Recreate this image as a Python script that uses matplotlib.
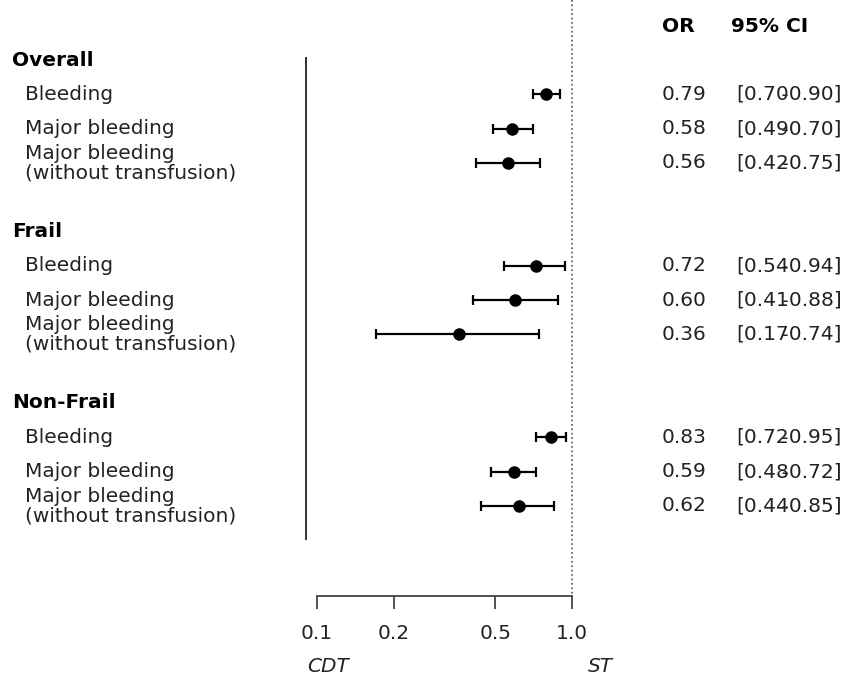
import matplotlib
matplotlib.use("Agg")
import matplotlib.pyplot as plt
from matplotlib.transforms import blended_transform_factory
import numpy as np

plt.rcParams['font.family'] = ['DejaVu Sans']

groups = ["Overall", "Frail", "Non-Frail"]
outcomes = ["Bleeding", "Major bleeding", "Major bleeding\n(without transfusion)"]
or_vals = [[0.79, 0.58, 0.56], [0.72, 0.60, 0.36], [0.83, 0.59, 0.62]]
ci_low = [[0.70, 0.49, 0.42], [0.54, 0.41, 0.17], [0.72, 0.48, 0.44]]
ci_high = [[0.90, 0.70, 0.75], [0.94, 0.88, 0.74], [0.95, 0.72, 0.85]]
xticks = [0.1, 0.2, 0.5, 1.0]
xticklabels = ["0.1", "0.2", "0.5", "1.0"]

W, H = 845, 675
fig = plt.figure(figsize=(W / 100, H / 100), dpi=100)
ax = fig.add_axes([0, 0, 1, 1])
ax.set_xscale('log')

# pixel mapping: x=317 -> 0.1, x=572 -> 1.0 ; y row k -> y0 + row_px*k
px_dec = 255.0
x0 = 317.0
ax.set_xlim(10 ** (-1 - x0 / px_dec), 10 ** (-1 + (W - x0) / px_dec))
row_px, y0 = 34.3, 60.0
ax.set_ylim((H - y0) / row_px, -y0 / row_px)

fs = 14.5
tcol = '#222222'
tx = blended_transform_factory(fig.transFigure, ax.transData)

k = 0
for g, grp in enumerate(groups):
    ax.text(12 / W, k, grp, transform=tx, fontsize=fs, fontweight='bold',
            va='center', ha='left')
    k += 1
    for i, lab in enumerate(outcomes):
        yy = k
        ax.text(25 / W, yy, lab, transform=tx, fontsize=fs, va='center',
                ha='left', linespacing=1.05, color=tcol)
        o, lo, hi = or_vals[g][i], ci_low[g][i], ci_high[g][i]
        ax.errorbar([o], [yy], xerr=[[o - lo], [hi - o]], fmt='o', color='black',
                    ms=8, capsize=3.8, elinewidth=1.6, capthick=1.6, zorder=3)
        ax.text(662 / W, yy, f"{o:.2f}", transform=tx, fontsize=fs, va='center',
                ha='left', color=tcol)
        ax.text(736 / W, yy, f"[{lo:.2f}\u0335{hi:.2f}]", transform=tx, fontsize=fs,
                va='center', ha='left', color=tcol)
        k += 1
    k += 1

ax.text(662 / W, (27 - y0) / row_px, "OR", transform=tx, fontsize=fs, fontweight='bold',
        va='center', ha='left')
ax.text(731 / W, (27 - y0) / row_px, "95% CI", transform=tx, fontsize=fs, fontweight='bold',
        va='center', ha='left')

# reference line at 1
axis_y = (596 - y0) / row_px
ax.vlines(1.0, -y0 / row_px, axis_y, colors='#555555', linestyles=':', lw=1.2)

# left vertical line
x_left = 10 ** (-1 + (306 - x0) / px_dec)
ax.vlines(x_left, (57 - y0) / row_px, (540 - y0) / row_px, colors='#222222', lw=1.3)

# bottom axis
for s in ['top', 'right', 'left']:
    ax.spines[s].set_visible(False)
ax.spines['bottom'].set_position(('data', axis_y))
ax.spines['bottom'].set_bounds(xticks[0], xticks[-1])
ax.spines['bottom'].set_color('#444444')
ax.spines['bottom'].set_linewidth(1.3)
ax.set_xticks(xticks)
ax.set_xticklabels(xticklabels)
ax.xaxis.set_minor_locator(matplotlib.ticker.NullLocator())
ax.tick_params(axis='x', direction='out', length=9, width=1.3, color='#444444',
               pad=11, labelsize=fs, labelcolor=tcol)
ax.set_yticks([])

lab_y = (667 - y0) / row_px
ax.text(307 / W, lab_y, "CDT", transform=tx, fontsize=fs, style='italic',
        va='center', ha='left', color=tcol)
ax.text(588 / W, lab_y, "ST", transform=tx, fontsize=fs, style='italic',
        va='center', ha='left', color=tcol)

fig.savefig("out.png", dpi=100)
